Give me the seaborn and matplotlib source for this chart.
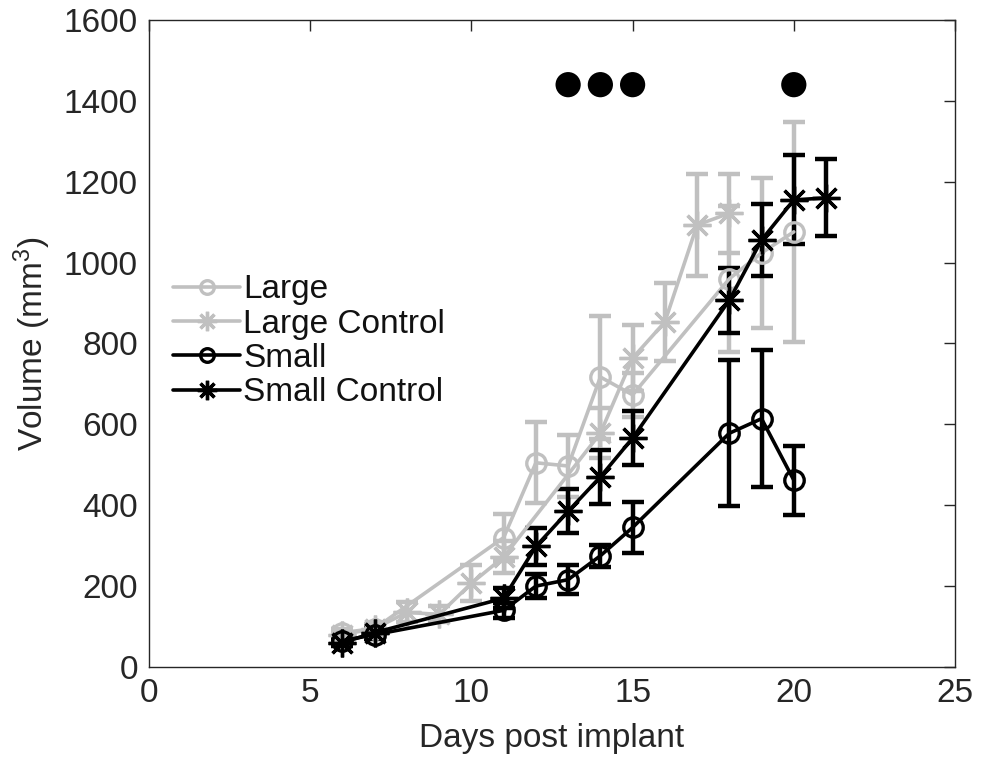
import matplotlib
matplotlib.use("Agg")
import matplotlib.pyplot as plt
import seaborn as sns
import pandas as pd
import numpy as np

# ---- data ----
large_days = [6, 7, 11, 12, 13, 14, 15, 18, 19, 20]
large_vol = [85, 95, 320, 505, 497, 717, 673, 960, 1024, 1076]
large_err = [10, 12, 58, 100, 77, 152, 55, 180, 186, 272]

lctrl_days = [6, 7, 8, 9, 10, 11, 14, 15, 16, 17, 18]
lctrl_vol = [80, 95, 135, 130, 207, 272, 578, 764, 853, 1093, 1122]
lctrl_err = [8, 10, 25, 20, 45, 40, 62, 82, 97, 126, 98]

small_days = [6, 7, 11, 12, 13, 14, 15, 18, 19, 20]
small_vol = [65, 80, 140, 200, 216, 275, 345, 578, 614, 462]
small_err = [8, 10, 18, 30, 36, 27, 63, 180, 170, 85]

sctrl_days = [6, 7, 11, 12, 13, 14, 15, 18, 19, 20, 21]
sctrl_vol = [60, 85, 170, 298, 385, 470, 566, 907, 1056, 1155, 1160]
sctrl_err = [8, 12, 25, 46, 54, 67, 66, 80, 90, 110, 95]

sig_days = [13, 14, 15, 20]
sig_y = [1440, 1440, 1440, 1440]

series_names = ["Large", "Large Control", "Small", "Small Control"]

frames = []
for name, d, v, e in zip(series_names,
                         [large_days, lctrl_days, small_days, sctrl_days],
                         [large_vol, lctrl_vol, small_vol, sctrl_vol],
                         [large_err, lctrl_err, small_err, sctrl_err]):
    frames.append(pd.DataFrame({"day": d, "volume": v, "err": e, "group": name}))
df = pd.concat(frames, ignore_index=True)

sns.set_theme(style="white")
plt.rcParams["font.family"] = ["Liberation Sans", "DejaVu Sans"]
plt.rcParams["mathtext.default"] = "regular"

gray = "#c0c0c0"
styles = {
    "Large": dict(color=gray, marker="o"),
    "Large Control": dict(color=gray, marker=(8, 2, 0)),
    "Small": dict(color="black", marker="o"),
    "Small Control": dict(color="black", marker=(8, 2, 0)),
}

fig = plt.figure(figsize=(9.81, 7.62), dpi=100)
ax = fig.add_axes([0.1519, 0.1247, 0.8216, 0.8491])

for name in series_names:
    sub = df[df["group"] == name]
    st = styles[name]
    ax.errorbar(sub["day"], sub["volume"], yerr=sub["err"], fmt="none",
                ecolor=st["color"], elinewidth=3.2, capsize=8, capthick=3.2,
                zorder=2)
    is_circle = st["marker"] == "o"
    sns.lineplot(data=sub, x="day", y="volume", ax=ax, color=st["color"],
                 marker=st["marker"], markersize=14 if is_circle else 20,
                 markerfacecolor="none" if is_circle else st["color"],
                 markeredgecolor=st["color"], markeredgewidth=2.4,
                 linewidth=2.6, label=name, zorder=3, errorbar=None)

sig_df = pd.DataFrame({"day": sig_days, "y": sig_y})
sns.scatterplot(data=sig_df, x="day", y="y", ax=ax, color="black", s=330,
                edgecolor="none", zorder=4, legend=False)

ax.set_xlim(0, 25)
ax.set_ylim(0, 1600)
ax.set_xticks([0, 5, 10, 15, 20, 25])
ax.set_yticks(np.arange(0, 1601, 200))
ax.tick_params(direction="in", length=8, width=1, top=True, right=True,
               labelsize=24, colors="#262626", pad=8)
for s in ax.spines.values():
    s.set_color("#262626")
    s.set_linewidth(1.0)
ax.set_xlabel("Days post implant", fontsize=24, color="#262626", labelpad=10)
ax.set_ylabel("Volume (mm$^3$)", fontsize=24, color="#262626", labelpad=8)

leg = ax.legend(loc="upper left", bbox_to_anchor=(0.03, 0.607), frameon=False,
                fontsize=24, handlelength=2.0, handletextpad=0.1,
                labelspacing=0.1, borderpad=0, borderaxespad=0, markerscale=0.7)
for t in leg.get_texts():
    t.set_color("#111111")

fig.savefig("out.png", dpi=100)
